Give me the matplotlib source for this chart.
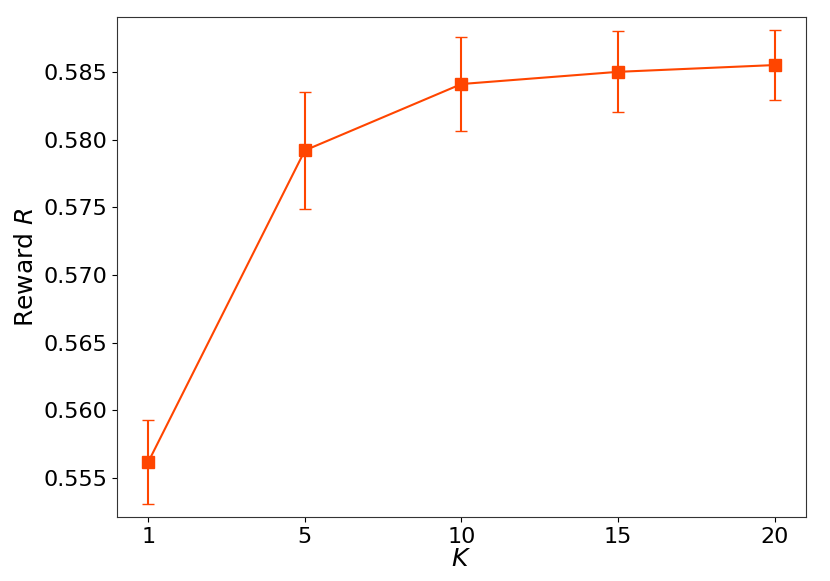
import matplotlib.pyplot as plt
import numpy as np

K = [1, 5, 10, 15, 20]
reward = [0.5562, 0.5792, 0.5841, 0.5850, 0.5855]
reward_err = [0.0031, 0.0043, 0.0035, 0.0030, 0.0026]

pos = np.arange(len(K))  # K values are plotted evenly spaced

fig, ax = plt.subplots(figsize=(8.3, 5.81), dpi=100)
ax.errorbar(pos, reward, yerr=reward_err, fmt='s-', color='orangered', ecolor='orangered',
            markersize=9, capsize=4, elinewidth=1.5, linewidth=1.5)
ax.set_xticks(pos)
ax.set_xticklabels([str(k) for k in K])
ax.set_xlim(-0.2, len(K) - 0.8)
ax.set_ylim(0.55212, 0.58906)
ax.set_xlabel(r'$K$', fontsize=18, labelpad=0)
ax.set_ylabel(r'Reward $R$', fontsize=18)
ax.tick_params(labelsize=16)
for s in ax.spines.values():
    s.set_color('#333333')
plt.subplots_adjust(left=0.141, right=0.971, top=0.971, bottom=0.110)
plt.savefig('out.png', dpi=100)
